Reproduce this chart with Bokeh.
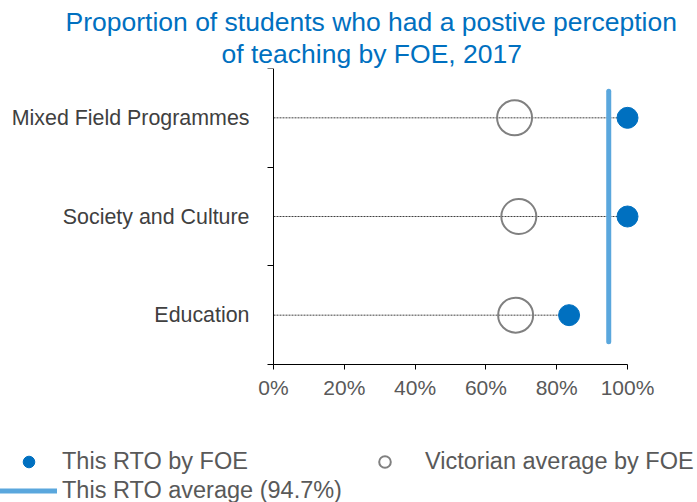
from bokeh.plotting import figure
from bokeh.models import (Range1d, FixedTicker, NumeralTickFormatter, Legend, LegendItem,
                          Title, ColumnDataSource, LinearAxis)
from bokeh.embed import file_html
from bokeh.resources import INLINE

# ---- data ----
categories = ["Education", "Society and Culture", "Mixed Field Programmes"]  # bottom to top
rto_by_foe = [0.835, 1.0, 1.0]
vic_avg_by_foe = [0.684, 0.693, 0.681]
rto_average = 0.947
x_ticks = [0, 0.2, 0.4, 0.6, 0.8, 1.0]
title_lines = ["Proportion of students who had a postive perception", "of teaching by FOE, 2017"]
legend_labels = ["This RTO by FOE", "Victorian average by FOE", "This RTO average (94.7%)"]

FONT = "Liberation Sans"
BLUE = "#0070C0"
LIGHT_BLUE = "#5AA7DD"
GREY_RING = "#808080"

ypos = [i + 0.5 for i in range(len(categories))]
src = ColumnDataSource(dict(
    y=ypos,
    rto=rto_by_foe,
    vic=vic_avg_by_foe,
    zero=[0] * len(categories),
    end=[max(a, b) for a, b in zip(rto_by_foe, vic_avg_by_foe)],
))

# ---- layout (pixels) ----
W, H = 697, 502
AXIS_X = 273        # where 0% sits
AXIS_BOTTOM = 364   # where the category axis ends
FRAME_TOP = 68
px_x = 354.0                                   # pixels per 100%
px_y = (AXIS_BOTTOM - FRAME_TOP) / len(categories)

p = figure(width=W, height=H, output_backend="svg", toolbar_location=None,
           x_range=Range1d(-AXIS_X / px_x, (W - AXIS_X) / px_x),
           y_range=Range1d(-(H - AXIS_BOTTOM) / px_y, len(categories)),
           x_axis_type=None, y_axis_type=None, title=None,
           min_border_left=0, min_border_right=0, min_border_top=FRAME_TOP, min_border_bottom=0)
p.outline_line_color = None
p.xgrid.visible = False
p.ygrid.visible = False
p.background_fill_color = "white"
p.border_fill_color = "white"

# axes
xaxis = LinearAxis(ticker=FixedTicker(ticks=x_ticks), formatter=NumeralTickFormatter(format="0%"),
                   fixed_location=0)
xaxis.bounds = (0, 1)
xaxis.axis_line_color = "black"
xaxis.major_tick_line_color = "black"
xaxis.major_tick_out = 5
xaxis.major_tick_in = 0
xaxis.minor_tick_line_color = None
xaxis.major_label_text_font = FONT
xaxis.major_label_text_font_size = "21px"
xaxis.major_label_text_color = "#595959"
xaxis.major_label_standoff = 6
p.add_layout(xaxis, "below")

yaxis = LinearAxis(ticker=FixedTicker(ticks=ypos, minor_ticks=list(range(len(categories) + 1))),
                   fixed_location=0)
yaxis.bounds = (0, len(categories))
yaxis.major_label_overrides = {y: c for y, c in zip(ypos, categories)}
yaxis.axis_line_color = "black"
yaxis.major_tick_line_color = None
yaxis.major_tick_out = 0
yaxis.major_tick_in = 0
yaxis.minor_tick_line_color = "black"
yaxis.minor_tick_out = 6
yaxis.minor_tick_in = 0
yaxis.major_label_text_font = FONT
yaxis.major_label_text_font_size = "21.4px"
yaxis.major_label_text_color = "#404040"
yaxis.major_label_standoff = 18
p.add_layout(yaxis, "left")

# dashed connectors
p.segment(x0="zero", y0="y", x1="end", y1="y", source=src,
          line_color="#404040", line_width=1, line_dash="2 1")

# Victorian average (open circles)
r_vic = p.scatter(x="vic", y="y", source=src, marker="circle", size=35,
                  fill_color=None, line_color=GREY_RING, line_width=2)

# RTO average line
pad = 0.27
r_avg = p.segment(x0=[rto_average], y0=[ypos[0] - pad], x1=[rto_average], y1=[ypos[-1] + pad],
                  line_color=LIGHT_BLUE, line_width=5, line_cap="round")

# RTO by FOE (filled)
r_rto = p.scatter(x="rto", y="y", source=src, marker="circle", size=21,
                  fill_color=BLUE, line_color=BLUE)

# titles (added inner first)
for text, off in [(title_lines[1], 221), (title_lines[0], 65)]:
    t = Title(text=text, align="left", offset=off, text_font=FONT, text_font_size="26.5px",
              text_color=BLUE, text_font_style="normal", standoff=0)
    p.add_layout(t, "above")

common = dict(glyph_width=57, glyph_height=29, spacing=0, padding=0, margin=0,
              label_text_font=FONT, label_text_font_size="23.5px", label_text_color="#595959",
              border_line_color=None, background_fill_alpha=0)
legend_a = Legend(items=[
    LegendItem(label=legend_labels[0], renderers=[r_rto]),
    LegendItem(label=legend_labels[2], renderers=[r_avg]),
], location=(0, -3), label_standoff=5, **common)
legend_b = Legend(items=[
    LegendItem(label=legend_labels[1], renderers=[r_vic]),
], location=(356, 26), label_standoff=12, **common)
p.add_layout(legend_a, "center")
p.add_layout(legend_b, "center")

open("out.html", "w").write(file_html(p, INLINE))
